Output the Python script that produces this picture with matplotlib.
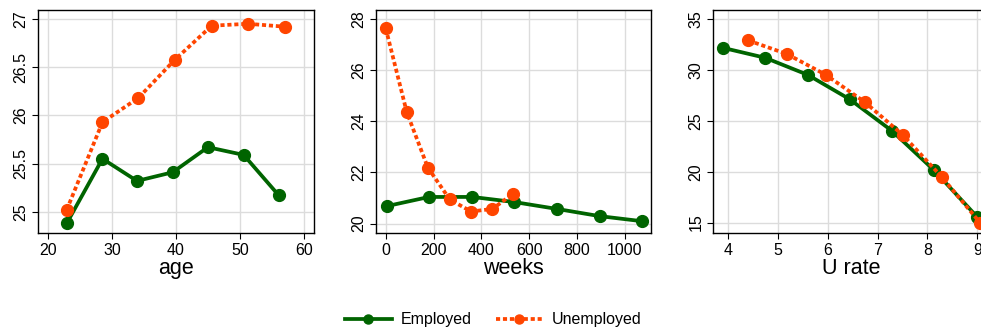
"""
Average outcome by age, tenure in weeks and local unemployment rate,
split by employment status. Three panels with a shared legend below.
"""

import matplotlib
matplotlib.use('Agg')
from matplotlib import pyplot
from matplotlib.lines import Line2D

# Panel 1: age
age_emp = [22.9, 28.5, 33.9, 39.5, 45.0, 50.6, 56.1]
val_age_emp = [24.88, 25.55, 25.32, 25.41, 25.67, 25.59, 25.17]
age_unemp = [22.9, 28.5, 34.1, 39.8, 45.6, 51.3, 57.0]
val_age_unemp = [25.02, 25.93, 26.18, 26.575, 26.93, 26.95, 26.92]

# Panel 2: weeks
weeks_emp = [4, 181, 362, 538, 717, 895, 1074]
val_weeks_emp = [20.68, 21.04, 21.04, 20.84, 20.57, 20.29, 20.09]
weeks_unemp = [0, 88, 176, 268, 357, 446, 534]
val_weeks_unemp = [27.63, 24.35, 22.19, 20.94, 20.47, 20.57, 21.17]

# Panel 3: unemployment rate
urate_emp = [3.886, 4.738, 5.596, 6.435, 7.286, 8.131, 8.997]
val_urate_emp = [32.18, 31.2, 29.52, 27.13, 24.02, 20.15, 15.56]
urate_unemp = [4.402, 5.18, 5.958, 6.743, 7.508, 8.286, 9.06]
val_urate_unemp = [32.9, 31.56, 29.52, 26.84, 23.59, 19.49, 14.97]

green = '#006400'
orange = '#ff4500'
dots = (0, (1.1, 0.75))

pyplot.rc('font', family=['Liberation Sans', 'DejaVu Sans'], size=10)
fig = pyplot.figure(figsize=(9.81, 3.33), dpi=100)

panels = [
    dict(rect=[0.0387, 0.3003, 0.2813, 0.6697], xlabel='age',
         emp=(age_emp, val_age_emp), unemp=(age_unemp, val_age_unemp),
         xlim=(18.4, 61.6), ylim=(24.78, 27.093),
         xticks=[20, 30, 40, 50, 60], yticks=[25, 25.5, 26, 26.5, 27],
         yticklabels=['25', '25.5', '26', '26.5', '27']),
    dict(rect=[0.383, 0.3003, 0.2806, 0.6697], xlabel='weeks',
         emp=(weeks_emp, val_weeks_emp), unemp=(weeks_unemp, val_weeks_unemp),
         xlim=(-42, 1110), ylim=(19.63, 28.35),
         xticks=[0, 200, 400, 600, 800, 1000], yticks=[20, 22, 24, 26, 28],
         yticklabels=['20', '22', '24', '26', '28']),
    dict(rect=[0.7271, 0.3003, 0.2813, 0.6697], xlabel='U rate',
         emp=(urate_emp, val_urate_emp), unemp=(urate_unemp, val_urate_unemp),
         xlim=(3.70, 9.24), ylim=(13.98, 35.89),
         xticks=[4, 5, 6, 7, 8, 9], yticks=[15, 20, 25, 30, 35],
         yticklabels=['15', '20', '25', '30', '35']),
]

for p in panels:
    ax = fig.add_axes(p['rect'])
    ax.grid(color='#dcdcdc', linewidth=1.0)
    ax.set_axisbelow(True)
    ax.plot(*p['emp'], color=green, linewidth=2.7, marker='o',
            markersize=8.5, clip_on=False, zorder=3)
    ax.plot(*p['unemp'], color=orange, linewidth=2.7, linestyle=dots,
            marker='o', markersize=8.5, clip_on=False, zorder=4)
    ax.set_xlim(*p['xlim'])
    ax.set_ylim(*p['ylim'])
    ax.set_xticks(p['xticks'])
    ax.set_yticks(p['yticks'])
    ax.set_yticklabels(p['yticklabels'], rotation=90, va='center')
    ax.set_xlabel(p['xlabel'], fontsize=15.5, labelpad=0)
    ax.tick_params(direction='out', length=4, width=0.8, labelsize=11.5,
                   colors='black', pad=3)
    for spine in ax.spines.values():
        spine.set_linewidth(1.0)

handles = [
    Line2D([], [], color=green, linewidth=2.7, marker='o', markersize=6.5),
    Line2D([], [], color=orange, linewidth=2.7, linestyle=dots,
           marker='o', markersize=6.5),
]
fig.legend(handles, ['Employed', 'Unemployed'], loc='center',
           bbox_to_anchor=(0.503, 0.04), ncol=2, frameon=False, fontsize=11.5,
           handlelength=2.9, columnspacing=1.5, handletextpad=0.6)

fig.savefig('out.png', dpi=100)
